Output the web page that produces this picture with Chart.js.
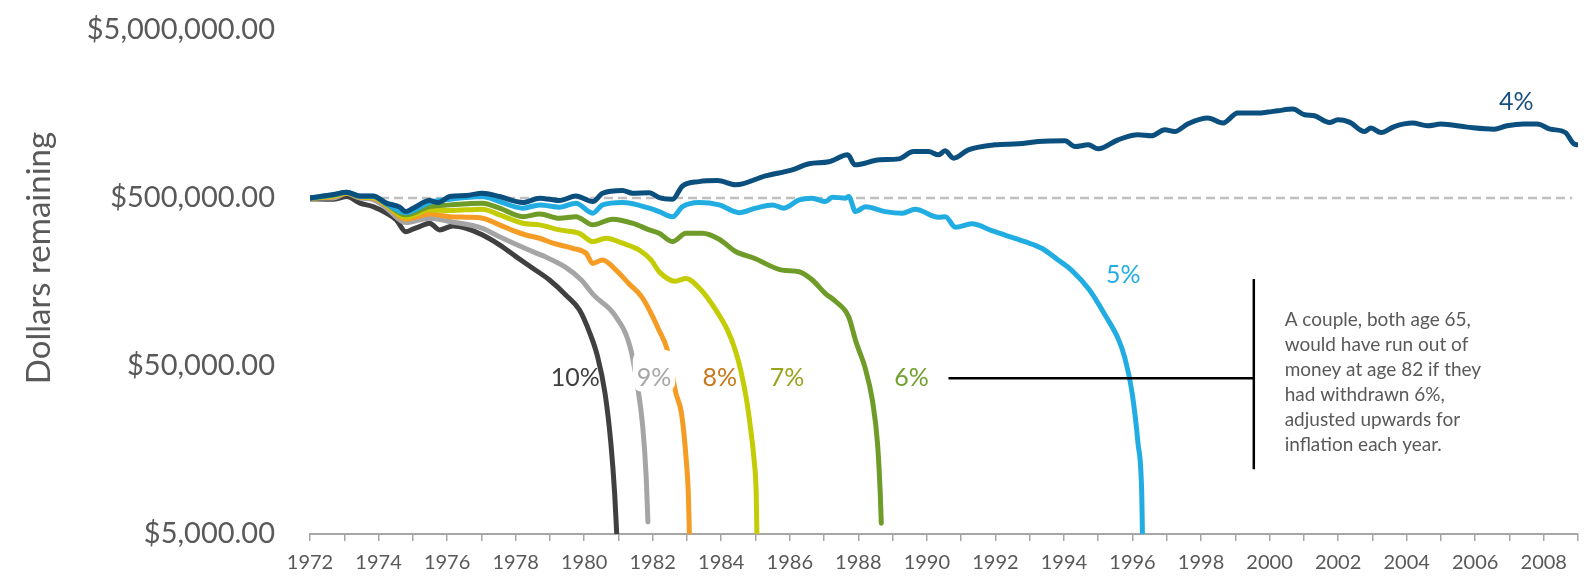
<!DOCTYPE html>
<html>
<head>
<meta charset="utf-8">
<title>Dollars remaining</title>
<script src="https://cdn.jsdelivr.net/npm/chart.js"></script>
<style>
  html, body { margin: 0; padding: 0; background: #fff; overflow: hidden; }
  canvas { display: block; }
</style>
</head>
<body>
<canvas id="chart" width="1588" height="577"></canvas>
<script>
// balances, in thousands of dollars
const years4 = [1972.0, 1972.68, 1973.07, 1973.46, 1973.84, 1974.23, 1974.62, 1974.79, 1975.01, 1975.49, 1975.74, 1976.08, 1976.56, 1977.03, 1977.53, 1978.21, 1978.70, 1979.28, 1979.76, 1980.25, 1980.54, 1981.12, 1981.41, 1981.90, 1982.19, 1982.58, 1982.87, 1983.35, 1983.89, 1984.42, 1985.29, 1986.07, 1986.56, 1987.14, 1987.69, 1987.90, 1988.62, 1989.18, 1989.61, 1990.05, 1990.34, 1990.53, 1990.78, 1991.21, 1991.99, 1992.67, 1993.25, 1994.03, 1994.32, 1994.71, 1995.00, 1995.58, 1996.16, 1996.55, 1996.94, 1997.23, 1997.62, 1998.20, 1998.64, 1999.07, 1999.66, 1999.95, 2000.24, 2000.68, 2001.02, 2001.31, 2001.75, 2001.99, 2002.33, 2002.77, 2002.96, 2003.25, 2003.64, 2004.17, 2004.61, 2005.00, 2005.77, 2006.55, 2006.93, 2007.42, 2007.81, 2008.19, 2008.63, 2008.88, 2009.00];
const vals4 = [500, 524, 541, 514, 514, 466, 441, 415, 435, 483, 470, 510, 517, 534, 510, 470, 499, 483, 514, 476, 534, 554, 534, 538, 503, 492, 590, 626, 635, 599, 677, 736, 799, 821, 903, 788, 844, 855, 945, 945, 903, 954, 863, 967, 1036, 1050, 1084, 1095, 1012, 1036, 981, 1110, 1189, 1173, 1273, 1244, 1382, 1495, 1396, 1601, 1601, 1623, 1652, 1691, 1564, 1543, 1407, 1460, 1415, 1244, 1303, 1227, 1332, 1396, 1345, 1377, 1321, 1285, 1345, 1377, 1377, 1285, 1227, 1050, 1036];

const years5 = [1972.0, 1972.68, 1973.07, 1973.46, 1973.84, 1974.23, 1974.79, 1975.49, 1976.08, 1977.03, 1977.53, 1978.21, 1978.70, 1979.28, 1979.76, 1980.25, 1980.54, 1981.12, 1981.90, 1982.19, 1982.58, 1982.87, 1983.35, 1983.94, 1984.52, 1985.00, 1985.49, 1985.83, 1986.27, 1986.65, 1987.04, 1987.24, 1987.63, 1987.72, 1987.92, 1988.21, 1988.79, 1989.28, 1989.66, 1990.34, 1990.54, 1990.83, 1991.31, 1991.89, 1992.28, 1992.86, 1993.35, 1993.80, 1994.22, 1994.74, 1995.20, 1995.60, 1995.77, 1995.99, 1996.16, 1996.27, 1996.29];
const vals5 = [500, 522, 541, 512, 512, 462, 409, 470, 492, 510, 476, 435, 455, 441, 466, 406, 455, 470, 435, 415, 387, 444, 470, 455, 409, 435, 455, 435, 487, 499, 476, 506, 499, 510, 415, 444, 415, 406, 429, 384, 387, 335, 351, 320, 301, 275, 251, 216, 186, 142, 100.5, 71.3, 56.5, 34.5, 17.4, 8.7, 5.0];

const years6 = [1972.0, 1972.68, 1973.07, 1973.46, 1973.84, 1974.23, 1974.79, 1975.49, 1976.08, 1977.03, 1977.53, 1978.21, 1978.70, 1979.28, 1979.76, 1980.25, 1980.83, 1981.41, 1981.90, 1982.19, 1982.58, 1982.97, 1983.45, 1983.94, 1984.42, 1984.96, 1985.78, 1986.27, 1986.65, 1987.04, 1987.34, 1987.72, 1987.92, 1988.02, 1988.19, 1988.41, 1988.56, 1988.64, 1988.67];
const vals6 = [500, 520, 540, 510, 510, 460, 397, 444, 455, 466, 435, 387, 402, 379, 387, 346, 374, 354, 323, 308, 275, 308, 308, 284, 240, 219, 186, 182, 163, 135, 121, 98, 71, 62, 49.4, 31.3, 17.3, 8.7, 5.8];

const years7 = [1972.0, 1972.68, 1973.07, 1973.46, 1973.84, 1974.23, 1974.79, 1975.49, 1976.08, 1977.03, 1977.53, 1978.21, 1978.70, 1979.28, 1979.86, 1980.25, 1980.64, 1981.12, 1981.61, 1981.95, 1982.20, 1982.65, 1982.97, 1983.38, 1983.84, 1984.18, 1984.41, 1984.57, 1984.74, 1984.85, 1984.96, 1985.02, 1985.04];
const vals7 = [500, 515, 537, 508, 505, 455, 384, 425, 421, 429, 397, 354, 346, 323, 308, 275, 288, 269, 245, 214, 181, 160, 166, 144, 108, 82, 62, 47, 31.3, 21.7, 13.7, 8.7, 5.0];

const years8 = [1972.0, 1972.68, 1973.07, 1973.46, 1973.84, 1974.23, 1974.79, 1975.49, 1976.08, 1976.56, 1977.03, 1977.53, 1978.01, 1978.30, 1978.70, 1979.09, 1979.67, 1980.06, 1980.25, 1980.54, 1980.93, 1981.30, 1981.68, 1981.90, 1982.18, 1982.42, 1982.68, 1982.84, 1982.98, 1983.04, 1983.07];
const vals8 = [500, 510, 534, 505, 500, 450, 374, 402, 387, 384, 379, 346, 315, 301, 288, 269, 251, 234, 204, 214, 186, 155, 129, 108, 82, 63, 34.3, 26.1, 13.7, 8.7, 5.0];

const years9 = [1972.0, 1972.68, 1973.07, 1973.46, 1973.84, 1974.23, 1974.79, 1975.49, 1976.08, 1977.03, 1977.53, 1978.27, 1978.85, 1979.43, 1979.91, 1980.28, 1980.90, 1981.34, 1981.56, 1981.71, 1981.81, 1981.86];
const vals9 = [500, 500, 534, 500, 490, 435, 357, 379, 362, 330, 294, 251, 224, 195, 163, 132, 100, 65, 37.6, 21.7, 10.9, 5.9];

const years10 = [1972.0, 1972.70, 1973.07, 1973.46, 1973.84, 1974.23, 1974.52, 1974.79, 1975.00, 1975.20, 1975.49, 1975.78, 1976.17, 1976.56, 1977.04, 1977.53, 1978.01, 1978.50, 1978.98, 1979.47, 1979.86, 1980.17, 1980.39, 1980.61, 1980.78, 1980.89, 1980.95];
const vals10 = [494, 492, 510, 466, 444, 406, 370, 315, 326, 338, 354, 323, 341, 330, 301, 263, 224, 191, 163, 132, 108, 78, 57, 34.3, 17.3, 8.7, 5.0];

// starting balance reference line
const refYears = [1972.0, 2008.83];
const refVals = [500, 500];

const yTicks = [5000, 50000, 500000, 5000000];

// rate labels and where they sit (year, $ thousands)
const pctLabels = ['4%', '5%', '6%', '7%', '8%', '9%', '10%'];
const labelYears = [2007.2, 1995.73, 1989.55, 1985.92, 1983.96, 1982.04, 1979.74];
const labelVals = [1856, 174, 42.35, 42.35, 42.35, 42.35, 42.35];

const noteLines = [
    'A couple, both age 65,',
    'would have run out of',
    'money at age 82 if they',
    'had withdrawn 6%,',
    'adjusted upwards for',
    'inflation each year.'
];

const lineColors = ['#0b4f7e', '#22ade2', '#6f9c29', '#c4cc05', '#f49c24', '#a5a5a5', '#404040'];
const textColors = ['#174f80', '#22aee4', '#70a030', '#9aa31c', '#c87818', '#a6a6a6', '#404040'];

function pts(xs, vs) {
    return xs.map(function (x, i) { return { x: x, y: vs[i] * 1000 }; });
}

const seriesData = [
    pts(years4, vals4), pts(years5, vals5), pts(years6, vals6), pts(years7, vals7),
    pts(years8, vals8), pts(years9, vals9), pts(years10, vals10)
];

var datasets = seriesData.map(function (d, i) {
    return {
        label: pctLabels[i],
        data: d,
        borderColor: lineColors[i],
        borderWidth: 5,
        pointRadius: 0,
        cubicInterpolationMode: 'monotone',
        borderCapStyle: 'round',
        borderJoinStyle: 'round',
        order: 2
    };
});
datasets.push({
    label: 'start',
    data: pts(refYears, refVals),
    borderColor: '#bfbfbf',
    borderWidth: 2.5,
    borderDash: [9, 5],
    pointRadius: 0,
    order: 5
});

// labels, callout and the rotated axis title
const annotate = {
    id: 'annotate',
    afterDatasetsDraw: function (chart) {
        var ctx = chart.ctx;
        var x = chart.scales.x, y = chart.scales.y;
        ctx.save();
        ctx.font = '25px Lato';
        ctx.textAlign = 'center';
        ctx.textBaseline = 'middle';
        for (var i = 0; i < pctLabels.length; i++) {
            var px = x.getPixelForValue(labelYears[i]);
            var py = y.getPixelForValue(labelVals[i] * 1000);
            if (pctLabels[i] === '9%') {
                var w = ctx.measureText(pctLabels[i]).width + 8;
                ctx.fillStyle = '#ffffff';
                ctx.beginPath();
                ctx.roundRect(px - w / 2, py - 28, w, 42, 10);
                ctx.fill();
            }
            ctx.fillStyle = textColors[i];
            ctx.fillText(pctLabels[i], px, py);
        }

        // callout lines
        var hy = y.getPixelForValue(42300);
        var vx = x.getPixelForValue(1999.54);
        ctx.strokeStyle = '#000000';
        ctx.lineWidth = 2.5;
        ctx.beginPath();
        ctx.moveTo(x.getPixelForValue(1990.63), hy);
        ctx.lineTo(vx, hy);
        ctx.moveTo(vx, y.getPixelForValue(164800));
        ctx.lineTo(vx, y.getPixelForValue(12150));
        ctx.stroke();

        // callout text
        ctx.font = '19px Lato';
        ctx.fillStyle = '#595959';
        ctx.textAlign = 'left';
        var tx = x.getPixelForValue(2000.44);
        var ty = y.getPixelForValue(94200);
        noteLines.forEach(function (t, k) {
            ctx.fillText(t, tx, ty + k * 25);
        });

        // y axis title
        ctx.font = '33px Lato';
        ctx.textAlign = 'center';
        ctx.translate(39, 258);
        ctx.rotate(-Math.PI / 2);
        ctx.fillText('Dollars remaining', 0, 0);
        ctx.restore();
    }
};

function money(v) {
    return '$' + Number(v).toLocaleString('en-US', { minimumFractionDigits: 2, maximumFractionDigits: 2 });
}

function drawChart() {
    Chart.defaults.font.family = 'Lato';
    new Chart(document.getElementById('chart'), {
        type: 'line',
        data: { datasets: datasets },
        plugins: [annotate],
        options: {
            responsive: false,
            animation: false,
            devicePixelRatio: 1,
            layout: { padding: { top: 30, right: 7, left: 0, bottom: 0 } },
            plugins: { legend: { display: false }, tooltip: { enabled: false } },
            scales: {
                x: {
                    type: 'linear',
                    min: 1972,
                    max: 2009,
                    afterFit: function (s) { s.height = 43; },
                    border: { color: '#a6a6a6', width: 2 },
                    grid: { drawOnChartArea: false, drawTicks: true, tickLength: 7, color: '#a6a6a6', lineWidth: 1.5 },
                    ticks: {
                        stepSize: 1,
                        autoSkip: false,
                        maxRotation: 0,
                        padding: 10,
                        color: '#595959',
                        font: { size: 20 },
                        callback: function (v) { return v % 2 === 0 ? String(v) : ''; }
                    }
                },
                y: {
                    type: 'logarithmic',
                    min: 5000,
                    max: 5000000,
                    afterFit: function (s) {
                        s.width = 310;
                        // the label gap should not push the plot area in
                        s.paddingTop = 0;
                        s.paddingBottom = 0;
                    },
                    afterBuildTicks: function (s) {
                        s.ticks = yTicks.map(function (v) { return { value: v }; });
                    },
                    border: { display: false },
                    grid: { display: false, drawTicks: false },
                    ticks: {
                        padding: 35,
                        color: '#595959',
                        font: { size: 29 },
                        callback: function (v) { return money(v); }
                    }
                }
            }
        }
    });
}

if (document.fonts && document.fonts.load) {
    Promise.all([document.fonts.load('25px Lato'), document.fonts.load('19px Lato')])
        .then(drawChart, drawChart);
} else {
    drawChart();
}
</script>
</body>
</html>
